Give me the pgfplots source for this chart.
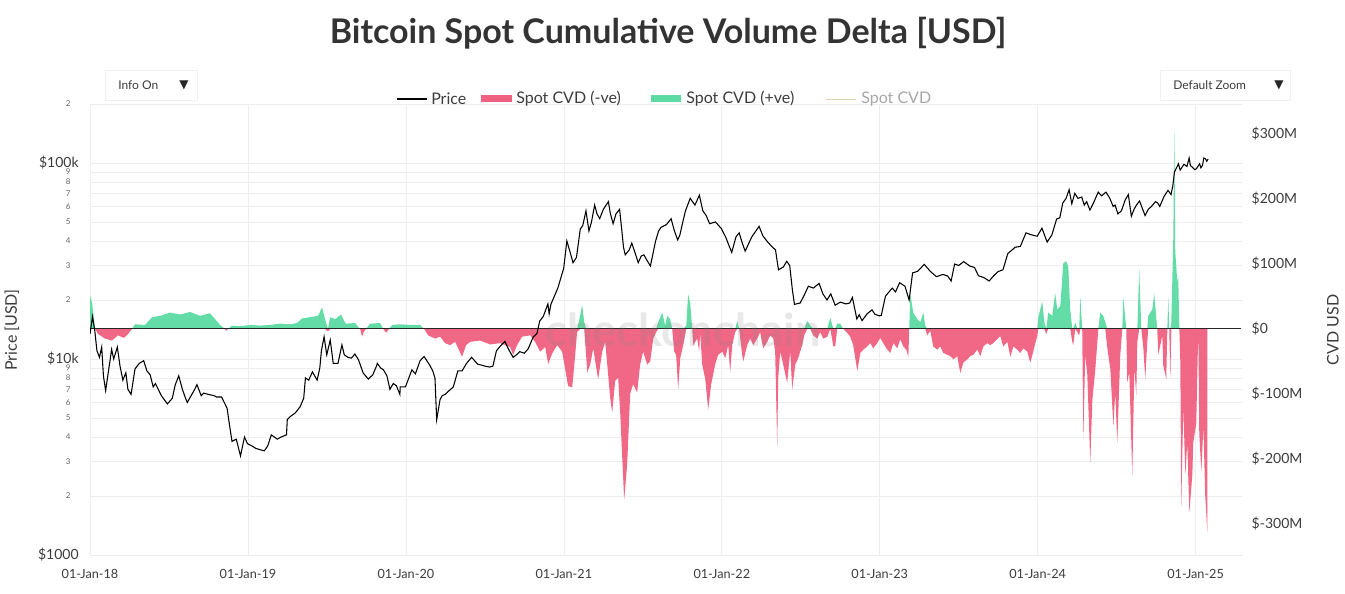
\documentclass[border=0pt]{standalone}
\usepackage{fontspec}
\setmainfont{Lato}
\newfontfamily\dejavu{DejaVu Sans}
\usepackage{pgfplots}
\usepackage{pgfplotstable}
\pgfplotsset{compat=1.18}
\definecolor{pinkcvd}{RGB}{240,96,128}
\definecolor{greencvd}{RGB}{92,218,162}
\definecolor{gridc}{RGB}{238,238,238}
\definecolor{txt}{RGB}{60,60,60}
\definecolor{tanc}{RGB}{228,208,178}

\pgfplotstableread{
t p
2018.000 13400
2018.016 16500
2018.030 14000
2018.044 11000
2018.060 10200
2018.074 11500
2018.085 8200
2018.099 6900
2018.137 11200
2018.150 10000
2018.173 11500
2018.190 9200
2018.208 7800
2018.227 8500
2018.240 7000
2018.260 6600
2018.285 8900
2018.312 9500
2018.340 9800
2018.360 8700
2018.381 8300
2018.400 7200
2018.414 7500
2018.452 6500
2018.470 6200
2018.490 5900
2018.521 6300
2018.540 7400
2018.562 8200
2018.585 7000
2018.605 6300
2018.616 6000
2018.640 6500
2018.663 7000
2018.677 7400
2018.704 6500
2018.720 6700
2018.748 6600
2018.786 6500
2018.800 6400
2018.833 6400
2018.868 5600
2018.885 4500
2018.899 3800
2018.926 3900
2018.953 3200
2018.978 4000
2018.997 3700
2019.025 3600
2019.050 3500
2019.074 3450
2019.104 3400
2019.125 3600
2019.148 4100
2019.186 3900
2019.210 4000
2019.244 4100
2019.249 4900
2019.270 5100
2019.299 5300
2019.330 5700
2019.353 6300
2019.364 8000
2019.385 7800
2019.408 8600
2019.438 7800
2019.455 9000
2019.465 11000
2019.482 13000
2019.499 10500
2019.521 12500
2019.540 9500
2019.570 9500
2019.595 11800
2019.610 10500
2019.633 10200
2019.655 10100
2019.677 10600
2019.700 9900
2019.729 8500
2019.745 8200
2019.762 7900
2019.790 8300
2019.814 9200
2019.819 9500
2019.840 9000
2019.858 8800
2019.880 8200
2019.899 7000
2019.920 7500
2019.940 7300
2019.962 6600
2019.964 7200
2019.997 7200
2020.038 8800
2020.060 8400
2020.090 9800
2020.115 10300
2020.151 9300
2020.170 8700
2020.184 8000
2020.195 4900
2020.216 6200
2020.230 6500
2020.249 6600
2020.274 6900
2020.300 7200
2020.329 8700
2020.356 8700
2020.384 9500
2020.416 10200
2020.440 9700
2020.455 9400
2020.480 9300
2020.499 9200
2020.530 9100
2020.551 9200
2020.573 11000
2020.600 11700
2020.627 12300
2020.650 11200
2020.679 10200
2020.700 10500
2020.721 10900
2020.750 10700
2020.775 11300
2020.805 12900
2020.830 13500
2020.847 15600
2020.870 16500
2020.899 19100
2020.907 17000
2020.918 19000
2020.962 23000
2020.999 29000
2021.019 40000
2021.040 35000
2021.058 31000
2021.080 33000
2021.104 46000
2021.120 48000
2021.140 57000
2021.159 45000
2021.175 50000
2021.195 61000
2021.210 55000
2021.227 52000
2021.250 58000
2021.282 63500
2021.295 55000
2021.312 49000
2021.330 55000
2021.353 58000
2021.365 47000
2021.378 37000
2021.389 34000
2021.414 36000
2021.430 39000
2021.450 35000
2021.471 31000
2021.490 33500
2021.507 34000
2021.525 32000
2021.548 29800
2021.581 40000
2021.600 45000
2021.616 47000
2021.650 48500
2021.679 52000
2021.700 45000
2021.721 40500
2021.735 43000
2021.748 48000
2021.770 57000
2021.800 66000
2021.830 61000
2021.858 68500
2021.880 57000
2021.901 54000
2021.923 49000
2021.960 50000
2021.997 46300
2022.025 41800
2022.045 38000
2022.063 35000
2022.090 42000
2022.110 44000
2022.130 39000
2022.148 35500
2022.190 42000
2022.236 47500
2022.260 42500
2022.285 40000
2022.310 38000
2022.340 36000
2022.359 28500
2022.390 29500
2022.411 31500
2022.430 30000
2022.447 22500
2022.460 19000
2022.496 19300
2022.520 21000
2022.548 23500
2022.580 23000
2022.616 24300
2022.640 21500
2022.666 20000
2022.690 21500
2022.718 18800
2022.750 19500
2022.786 19100
2022.810 19300
2022.827 20600
2022.855 16000
2022.870 16800
2022.888 15700
2022.920 17000
2022.951 17800
2022.970 16900
2022.997 16600
2023.010 16700
2023.036 20900
2023.079 23000
2023.100 22000
2023.126 24500
2023.160 23500
2023.186 20000
2023.208 27500
2023.240 28000
2023.282 30400
2023.320 28000
2023.359 26300
2023.400 27000
2023.430 26500
2023.452 25000
2023.474 30500
2023.500 30000
2023.532 31400
2023.570 29800
2023.600 29300
2023.625 26600
2023.660 26000
2023.693 25000
2023.720 26500
2023.748 27900
2023.780 28500
2023.811 34500
2023.858 37200
2023.890 37500
2023.926 44000
2023.960 43000
2023.997 42300
2024.027 46500
2024.045 42500
2024.060 39500
2024.090 43000
2024.120 51800
2024.140 52500
2024.159 62500
2024.180 66000
2024.199 73100
2024.216 62000
2024.235 70000
2024.255 66000
2024.279 67000
2024.295 61000
2024.310 63500
2024.331 57500
2024.355 63000
2024.383 71000
2024.405 68000
2024.432 71000
2024.455 66500
2024.478 60000
2024.490 61000
2024.508 55000
2024.530 57000
2024.555 65000
2024.574 69000
2024.593 53500
2024.610 58000
2024.625 61000
2024.645 64000
2024.665 58000
2024.680 53900
2024.700 58000
2024.720 60000
2024.746 63500
2024.760 62500
2024.773 60000
2024.800 67500
2024.825 72500
2024.844 69000
2024.855 76000
2024.866 90000
2024.891 99000
2024.902 92000
2024.926 98500
2024.945 96000
2024.959 106000
2024.967 97000
2024.980 95000
2024.995 92500
2025.005 93500
2025.016 96500
2025.025 99000
2025.033 94500
2025.043 97000
2025.052 106000
2025.063 105000
2025.070 102000
2025.079 104700
}\price

\pgfplotstableread{
t v
2018.000 52
2018.013 40
2018.032 0
2018.051 -8
2018.095 -15
2018.139 -18
2018.177 -10
2018.215 -14
2018.241 -8
2018.266 0
2018.285 7
2018.348 6
2018.393 18
2018.443 20
2018.507 25
2018.570 22
2018.633 26
2018.697 20
2018.760 24
2018.792 15
2018.823 6
2018.855 0
2018.861 -3
2018.874 0
2018.899 5
2018.950 4
2019.013 6
2019.077 5
2019.140 6
2019.203 8
2019.267 7
2019.311 9
2019.343 16
2019.393 18
2019.444 20
2019.469 33
2019.488 15
2019.507 -4
2019.520 18
2019.552 15
2019.590 22
2019.609 12
2019.621 8
2019.678 9
2019.710 0
2019.723 -12
2019.735 -4
2019.748 0
2019.773 8
2019.837 9
2019.856 0
2019.875 -6
2019.894 0
2019.913 6
2019.963 7
2020.027 6
2020.090 6
2020.115 0
2020.141 -10
2020.185 -15
2020.217 -12
2020.248 -22
2020.280 -25
2020.312 -20
2020.356 -43
2020.381 -25
2020.407 -20
2020.470 -18
2020.533 -24
2020.597 -22
2020.660 -28
2020.679 -40
2020.704 -25
2020.736 -12
2020.787 -10
2020.818 -20
2020.850 -35
2020.882 -28
2020.901 -54
2020.926 -38
2020.958 -25
2020.989 -35
2021.027 -88
2021.053 -90
2021.072 -40
2021.084 -5
2021.103 20
2021.116 37
2021.129 10
2021.141 -40
2021.148 -67
2021.167 -55
2021.186 -30
2021.217 -78
2021.243 -35
2021.262 -20
2021.293 -105
2021.306 -129
2021.325 -80
2021.344 -75
2021.357 -130
2021.382 -263
2021.401 -208
2021.420 -100
2021.439 -85
2021.464 -98
2021.483 -55
2021.502 -35
2021.528 -55
2021.547 -50
2021.566 -15
2021.585 -5
2021.597 10
2021.623 25
2021.642 5
2021.654 20
2021.673 15
2021.686 0
2021.699 -35
2021.711 -40
2021.724 -93
2021.737 -45
2021.756 -25
2021.775 5
2021.787 53
2021.800 40
2021.813 0
2021.819 -25
2021.844 -15
2021.857 -35
2021.863 -5
2021.876 -55
2021.895 -77
2021.914 -124
2021.933 -85
2021.958 -55
2021.977 -40
2022.003 -35
2022.022 -45
2022.041 -25
2022.053 -67
2022.066 -25
2022.085 -5
2022.098 12
2022.110 0
2022.117 -15
2022.129 -40
2022.136 -50
2022.161 -25
2022.180 -15
2022.199 -25
2022.224 -15
2022.243 -5
2022.262 -30
2022.288 -20
2022.307 -10
2022.326 -15
2022.338 -35
2022.351 -181
2022.357 -77
2022.370 -35
2022.389 -55
2022.414 -83
2022.433 -35
2022.446 -93
2022.465 -55
2022.484 -45
2022.509 -25
2022.522 -10
2022.541 12
2022.560 5
2022.579 -10
2022.604 -15
2022.623 -5
2022.642 -15
2022.668 -12
2022.687 17
2022.706 -27
2022.718 -27
2022.731 8
2022.750 8
2022.769 0
2022.794 -6
2022.813 -12
2022.832 -25
2022.858 -65
2022.877 -37
2022.896 -32
2022.921 -27
2022.940 -22
2022.959 -30
2022.984 -22
2023.003 -14
2023.022 -22
2023.048 -32
2023.067 -37
2023.086 -22
2023.111 -30
2023.130 -16
2023.149 -27
2023.168 -32
2023.181 -43
2023.187 0
2023.193 55
2023.212 25
2023.238 15
2023.257 10
2023.276 25
2023.288 5
2023.301 -10
2023.320 -3
2023.339 -27
2023.364 -32
2023.383 -27
2023.402 -37
2023.428 -40
2023.447 -42
2023.466 -47
2023.491 -42
2023.510 -68
2023.529 -52
2023.554 -47
2023.573 -42
2023.592 -40
2023.618 -32
2023.637 -42
2023.656 -27
2023.681 -22
2023.700 -25
2023.719 -22
2023.744 -16
2023.763 -11
2023.782 -27
2023.808 -20
2023.827 -43
2023.846 -27
2023.871 -32
2023.890 -37
2023.909 -30
2023.934 -35
2023.953 -52
2023.972 -35
2023.998 -10
2024.004 18
2024.029 42
2024.042 10
2024.054 -8
2024.067 25
2024.092 20
2024.111 55
2024.124 30
2024.143 35
2024.162 101
2024.181 104
2024.194 95
2024.206 30
2024.219 -20
2024.225 -25
2024.238 10
2024.251 -5
2024.263 -10
2024.270 50
2024.282 0
2024.289 -170
2024.301 -40
2024.314 -70
2024.333 -206
2024.346 -110
2024.365 -62
2024.384 0
2024.396 25
2024.415 20
2024.428 10
2024.441 -30
2024.460 -62
2024.479 -150
2024.491 -98
2024.504 -175
2024.523 -40
2024.536 0
2024.542 48
2024.561 0
2024.567 -82
2024.580 -67
2024.599 -226
2024.612 -60
2024.624 -102
2024.631 -20
2024.643 91
2024.656 0
2024.669 -30
2024.681 -77
2024.694 -20
2024.700 20
2024.726 30
2024.738 54
2024.757 0
2024.764 -40
2024.789 -10
2024.795 -56
2024.814 -77
2024.821 0
2024.827 49
2024.833 0
2024.840 -77
2024.846 10
2024.859 144
2024.865 311
2024.871 120
2024.884 72
2024.890 80
2024.897 0
2024.903 -50
2024.909 -273
2024.922 -120
2024.935 -225
2024.947 -175
2024.960 -283
2024.979 -225
2024.985 -175
2025.004 -145
2025.017 0
2025.023 -160
2025.036 -220
2025.049 -150
2025.061 -257
2025.074 -313
}\cvd

\pgfplotsset{
  basestyle/.style={
    at={(67.5pt,28.5pt)}, anchor=south west,
    scale only axis, width=864.75pt, height=338.25pt,
    xmin=2018, xmax=2025.3,
    axis line style={draw=none}, tick style={draw=none},
    major tick length=0pt, minor tick length=0pt,
  }
}

\begin{document}
\begin{tikzpicture}
\begin{scope}[x=0.75pt,y=0.75pt]
\path[use as bounding box] (0,0) rectangle (1345,593);
\end{scope}

% grid + left ticks + date ticks
\begin{axis}[basestyle,
  ymode=log, ymin=1000, ymax=200000,
  xtick={2018,2019,2020,2021,2022,2023,2024,2025},
  xticklabels={01-Jan-18,01-Jan-19,01-Jan-20,01-Jan-21,01-Jan-22,01-Jan-23,01-Jan-24,01-Jan-25},
  xticklabel style={font=\fontsize{9.5}{11}\selectfont, text=txt, yshift=-7pt},
  ytick={1000,10000,100000},
  yticklabels={\$1000,\$10k,\$100k},
  yticklabel style={font=\fontsize{10.5}{12}\selectfont, text=txt, xshift=-5pt},
  extra y ticks={2000,3000,4000,5000,6000,7000,8000,9000,20000,30000,40000,50000,60000,70000,80000,90000,200000},
  extra y tick labels={2,3,4,5,6,7,8,9,2,3,4,5,6,7,8,9,2},
  extra y tick style={grid=major, yticklabel style={font=\fontsize{6}{6.5}\selectfont, text=txt!80, xshift=-6pt, inner ysep=0pt}},
  grid=major, major grid style={gridc, line width=0.5pt},
]
\end{axis}

% CVD
\begin{axis}[basestyle,
  ymin=-348, ymax=346,
  xtick=\empty,
  yticklabel pos=right,
  ytick={-300,-200,-100,0,100,200,300},
  yticklabels={\$-300M,\$-200M,\$-100M,\$0,\$100M,\$200M,\$300M},
  yticklabel style={font=\fontsize{10.5}{12}\selectfont, text=txt, xshift=3pt},
]
\addplot[fill=greencvd, draw=none, fill opacity=0.95] table[x=t, y expr={max(\thisrow{v},0)}] {\cvd} \closedcycle;
\addplot[fill=pinkcvd, draw=none, fill opacity=0.95] table[x=t, y expr={min(\thisrow{v},0)}] {\cvd} \closedcycle;
\addplot[black!85, line width=0.9pt] coordinates {(2018,0) (2025.29,0)};
\end{axis}

% watermark
\begin{scope}[x=0.75pt,y=0.75pt]
\node[text=gray, opacity=0.18, font=\fontsize{34}{36}\selectfont\bfseries] at (683,263) {checkonchain};
\end{scope}

% price
\begin{axis}[basestyle, hide axis,
  ymode=log, ymin=1000, ymax=200000]
\addplot[black, line width=0.8pt] table[x=t, y=p] {\price};
\end{axis}

\begin{scope}[x=0.75pt,y=0.75pt]
% title
\node[text=black!80, font=\fontsize{25.5}{30}\selectfont\bfseries] at (668,560) {Bitcoin Spot Cumulative Volume Delta [USD]};
% axis titles
\node[rotate=90, text=txt, font=\fontsize{12}{14}\selectfont] at (12,263) {Price [USD]};
\node[rotate=90, text=txt, font=\fontsize{12}{14}\selectfont] at (1333,263) {CVD USD};
% legend
\draw[black, line width=0.8pt] (397,494) -- (427,494);
\node[anchor=west, text=txt, font=\fontsize{12}{14}\selectfont, inner sep=0pt] at (431,494) {Price};
\fill[pinkcvd] (481,490.5) rectangle (512,497.5);
\node[anchor=west, text=txt, font=\fontsize{12}{14}\selectfont, inner sep=0pt] at (516,494) {Spot CVD (-ve)};
\fill[greencvd] (651,490.5) rectangle (681,497.5);
\node[anchor=west, text=txt, font=\fontsize{12}{14}\selectfont, inner sep=0pt] at (686,494) {Spot CVD (+ve)};
\draw[tanc, line width=0.6pt] (826,494) -- (856,494);
\node[anchor=west, text=black!35, font=\fontsize{12}{14}\selectfont, inner sep=0pt] at (861,494) {Spot CVD};
% buttons
\draw[black!6, fill=white] (105,493) rectangle (197,523);
\node[anchor=west, text=txt, font=\fontsize{9}{11}\selectfont, inner sep=0pt] at (118,508) {Info On};
\node[text=black!85, font=\dejavu\fontsize{9}{11}\selectfont, inner sep=0pt] at (184,508) {▼};
\draw[black!6, fill=white] (1160,493) rectangle (1290,523);
\node[anchor=west, text=txt, font=\fontsize{9}{11}\selectfont, inner sep=0pt] at (1173,508) {Default Zoom};
\node[text=black!85, font=\dejavu\fontsize{9}{11}\selectfont, inner sep=0pt] at (1279,508) {▼};
\end{scope}
\end{tikzpicture}
\end{document}
